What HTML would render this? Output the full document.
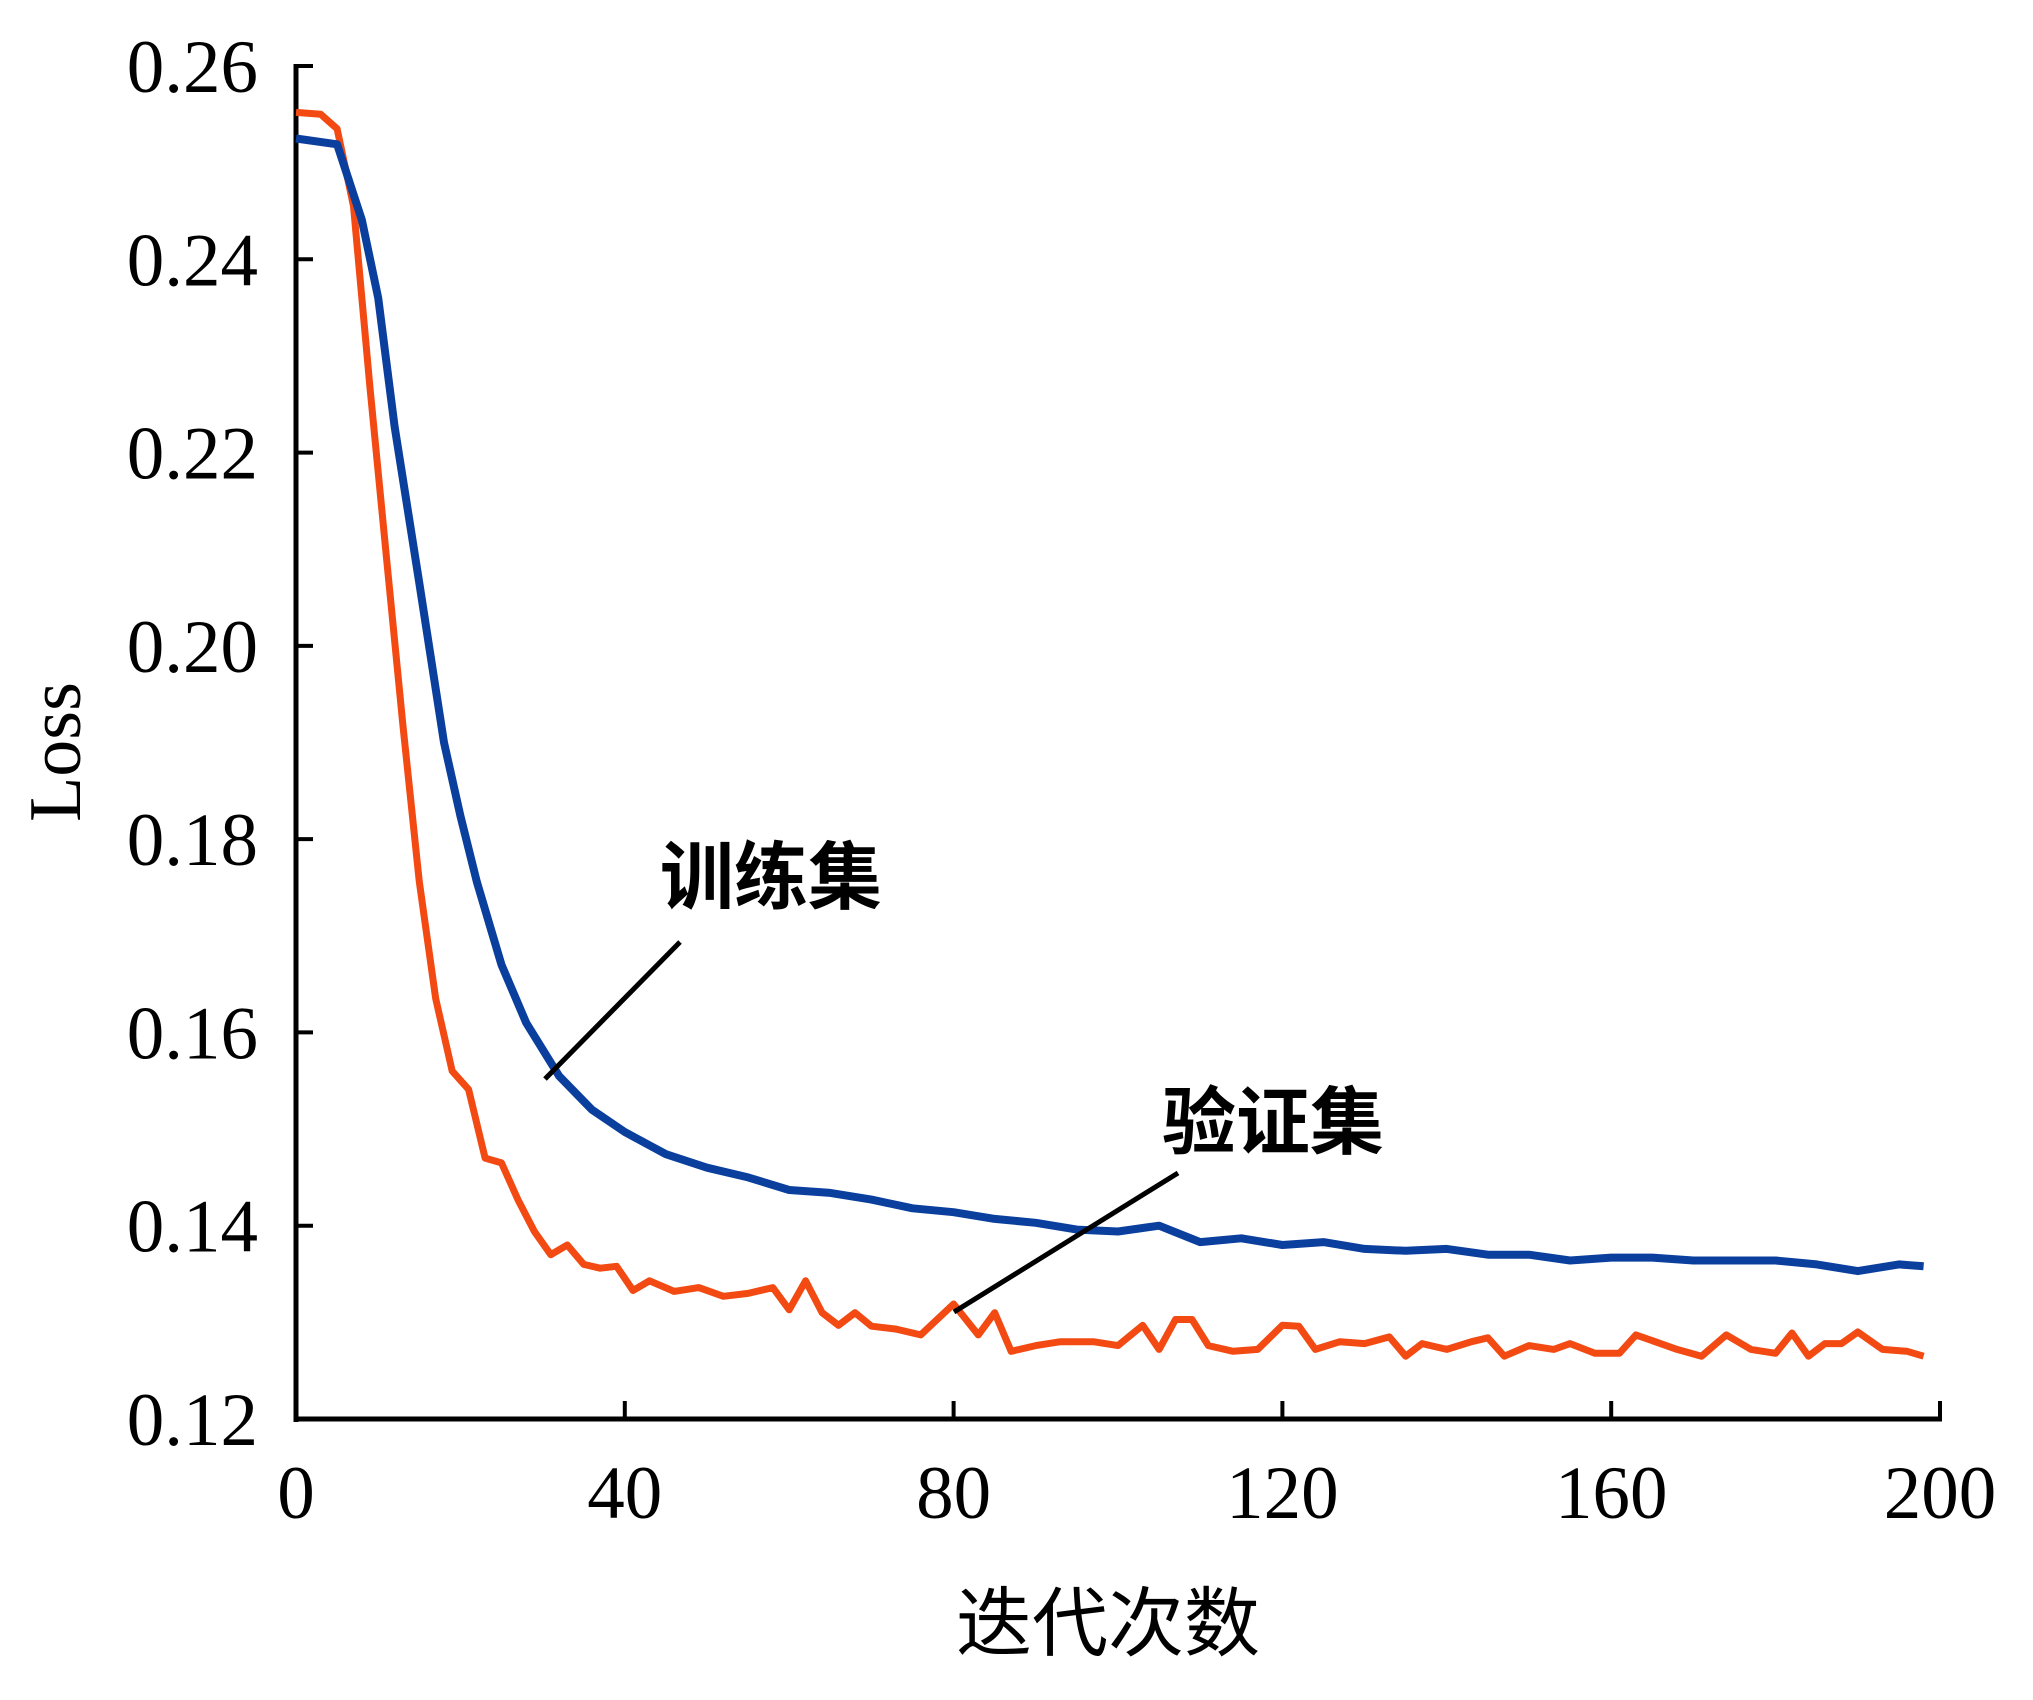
<!DOCTYPE html>
<html><head><meta charset="utf-8">
<style>
html,body{margin:0;padding:0;background:#fff;}
svg{display:block;}
text{font-family:"Liberation Serif","Noto Serif CJK SC",serif;fill:#000;}
.cjk{font-family:"Liberation Sans","Noto Sans CJK SC",sans-serif;}
</style></head>
<body>
<svg id="chart" width="2033" height="1700" viewBox="0 0 2033 1700" xmlns="http://www.w3.org/2000/svg">
<g id="axes"></g>
<g id="series"></g>
<text x="63" y="752" font-size="74" text-anchor="middle" transform="rotate(-90 63 752)" dominant-baseline="middle">Loss</text>
<text class="cjk" x="1108" y="1650" font-size="76" text-anchor="middle">迭代次数</text>
<text class="cjk" x="660" y="903" font-size="74" font-weight="bold">训练集</text>
<line x1="680" y1="942" x2="545" y2="1079" stroke="#000" stroke-width="5"/>
<text class="cjk" x="1162" y="1148" font-size="74" font-weight="bold">验证集</text>
<line x1="1178" y1="1173" x2="954" y2="1312" stroke="#000" stroke-width="5"/>
</svg>
<script>
const xTicks=[0,40,80,120,160,200];
const yTicks=[0.12,0.14,0.16,0.18,0.20,0.22,0.24,0.26];
const yTickLabels=["0.12","0.14","0.16","0.18","0.20","0.22","0.24","0.26"];
const trainX=[0,5,8,10,12,15,18,20,22,25,28,32,36,40,45,50,55,60,65,70,75,80,85,90,95,100,105,110,115,120,125,130,135,140,145,150,155,160,165,170,175,180,185,190,195,198];
const trainY=[0.2525,0.2519,0.2441,0.236,0.2227,0.2065,0.190,0.1824,0.1756,0.167,0.161,0.1555,0.152,0.1497,0.1474,0.146,0.145,0.1437,0.1434,0.1427,0.1418,0.1414,0.1407,0.1403,0.1396,0.1394,0.140,0.1383,0.1387,0.138,0.1383,0.1376,0.1374,0.1376,0.137,0.137,0.1364,0.1367,0.1367,0.1364,0.1364,0.1364,0.136,0.1353,0.136,0.1358];
const valX=[0,3,5,7,9,11,13,15,17,19,21,23,25,27,29,31,33,35,37,39,41,43,46,49,52,55,58,60,62,64,66,68,70,73,76,80,83,85,87,90,93,97,100,103,105,107,109,111,114,117,120,122,124,127,130,133,135,137,140,143,145,147,150,153,155,158,161,163,166,168,171,174,177,180,182,184,186,188,190,193,196,198];
const valY=[0.2552,0.255,0.2535,0.2455,0.2267,0.2092,0.1918,0.1756,0.1635,0.156,0.1541,0.147,0.1465,0.1427,0.1394,0.137,0.138,0.136,0.1356,0.1358,0.1333,0.1343,0.1332,0.1336,0.1327,0.133,0.1336,0.1313,0.1343,0.131,0.1297,0.131,0.1296,0.1293,0.1287,0.1319,0.1287,0.131,0.127,0.1276,0.128,0.128,0.1276,0.1297,0.1272,0.1303,0.1303,0.1276,0.127,0.1272,0.1297,0.1296,0.1272,0.128,0.1278,0.1285,0.1265,0.1278,0.1272,0.128,0.1284,0.1265,0.1276,0.1272,0.1278,0.1268,0.1268,0.1287,0.1278,0.1272,0.1265,0.1287,0.1272,0.1268,0.1289,0.1265,0.1278,0.1278,0.129,0.1272,0.127,0.1265];

const X0=296,X1=1940,Y0=1419,Y1=66;
function sx(v){return X0+(v-0)/(200-0)*(X1-X0);}
function sy(v){return Y0-(v-0.12)/(0.26-0.12)*(Y0-Y1);}
const NS="http://www.w3.org/2000/svg";
const axes=document.getElementById('axes');
const series=document.getElementById('series');
function mk(tag,attrs,parent){const e=document.createElementNS(NS,tag);for(const k in attrs)e.setAttribute(k,attrs[k]);parent.appendChild(e);return e;}

let yl=mk('line',{x1:X0,y1:Y1-2,x2:X0,y2:Y0+3,stroke:'#000','stroke-width':5},axes);


let xl=mk('line',{x1:X0-2,y1:Y0,x2:X1+2,y2:Y0,stroke:'#000','stroke-width':5},axes);



yTicks.forEach((v,i)=>{
  const y=sy(v);
  const t=mk('line',{x1:X0,y1:y,x2:X0+17,y2:y,stroke:'#000','stroke-width':4},axes);
  
  
  const tx=mk('text',{x:258,y:y+26,'font-size':75,'text-anchor':'end'},axes);
  tx.textContent=yTickLabels[i];
  
  
});
xTicks.forEach(v=>{
  const x=sx(v);
  if(v>0){
    const t=mk('line',{x1:x,y1:Y0,x2:x,y2:Y0-18,stroke:'#000','stroke-width':4},axes);
    
    
  }
  const tx=mk('text',{x:x,y:1518,'font-size':75,'text-anchor':'middle'},axes);
  tx.textContent=String(v);
  
  
});

function path(xs,ys){return xs.map((x,i)=>(i?'L':'M')+sx(x).toFixed(1)+' '+sy(ys[i]).toFixed(1)).join(' ');}
const vp=mk('path',{d:path(valX,valY),fill:'none',stroke:'#f24a12','stroke-width':7,'stroke-linejoin':'round'},series);


const tp=mk('path',{d:path(trainX,trainY),fill:'none',stroke:'#0b3f9e','stroke-width':8,'stroke-linejoin':'round'},series);


</script>
</body></html>
